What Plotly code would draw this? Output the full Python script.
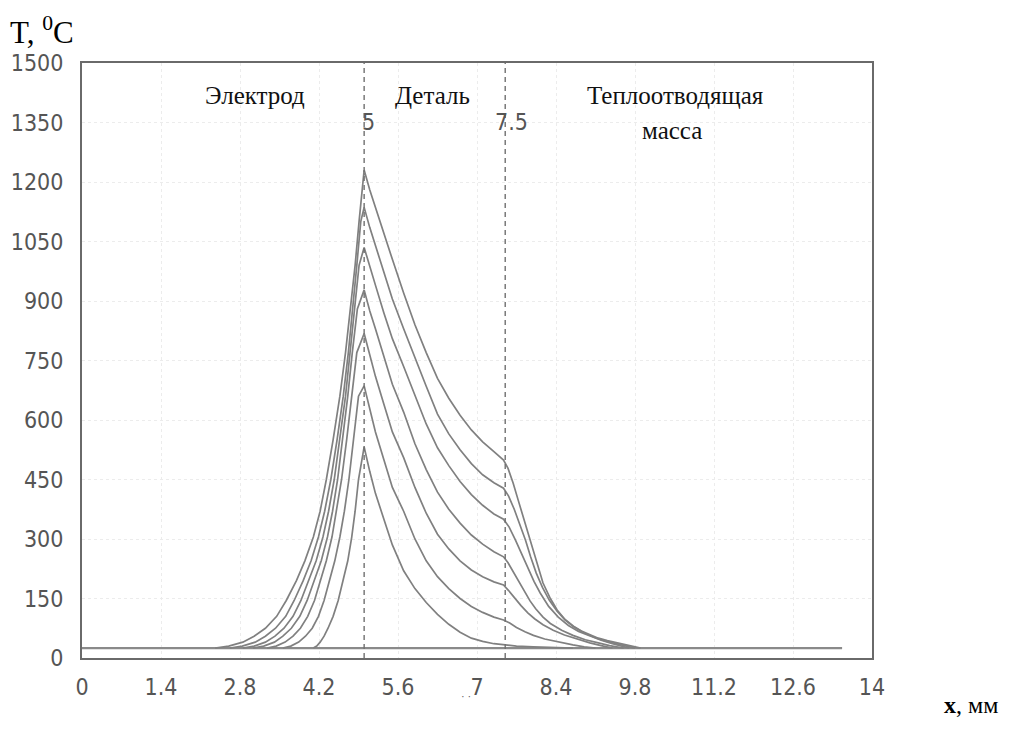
import plotly.graph_objects as go

# ---------------- data ----------------
x_ticks = [0, 1.4, 2.8, 4.2, 5.6, 7.0, 8.4, 9.8, 11.2, 12.6, 14]
x_tick_labels = ["0", "1.4", "2.8", "4.2", "5.6", "7", "8.4", "9.8", "11.2", "12.6", "14"]
y_ticks = [0, 150, 300, 450, 600, 750, 900, 1050, 1200, 1350, 1500]

base_x = [0, 13.47]
base_t = [25, 25]

c1_x = [2.36, 2.6, 2.85, 3.05, 3.25, 3.45, 3.62, 3.8, 3.95, 4.1, 4.22, 4.33, 4.45, 4.57,
        4.67, 4.76, 4.84, 4.91, 4.96, 5.0,
        5.1, 5.2, 5.35, 5.5, 5.7, 5.9, 6.1, 6.3, 6.5, 6.7, 6.9, 7.1, 7.3, 7.47,
        7.55, 7.64, 7.73, 7.82, 7.91, 8.0, 8.08, 8.17, 8.3, 8.42, 8.56, 8.71, 8.85,
        9.0, 9.15, 9.31, 9.5, 9.72, 9.9]
c1_t = [25, 30, 40, 55, 75, 105, 145, 195, 245, 305, 370, 450, 550, 660,
        770, 880, 990, 1100, 1180, 1230,
        1180, 1135, 1070, 1005, 920, 840, 770, 705, 655, 612, 575, 545, 520, 499,
        478, 441, 398, 355, 310, 265, 226, 189, 150, 121, 97, 80, 68,
        58, 50, 44, 38, 32, 25]

c2_x = [2.62, 2.84, 3.07, 3.25, 3.43, 3.61, 3.76, 3.92, 4.06, 4.19, 4.3, 4.41, 4.52, 4.63,
        4.72, 4.8, 4.87, 4.94, 5.0,
        5.1, 5.2, 5.35, 5.5, 5.7, 5.9, 6.1, 6.3, 6.5, 6.7, 6.9, 7.1, 7.3, 7.47,
        7.56, 7.66, 7.76, 7.86, 7.95, 8.05, 8.16, 8.28, 8.42, 8.56, 8.72, 8.9,
        9.1, 9.3, 9.5, 9.65, 9.8]
c2_t = [25, 30, 40, 55, 75, 105, 145, 195, 245, 305, 370, 450, 550, 660,
        770, 880, 990, 1100, 1136,
        1085, 1040, 970, 905, 830, 755, 685, 615, 565, 525, 490, 462, 442, 428,
        408, 375, 336, 297, 255, 214, 178, 146, 118, 96, 78, 63,
        51, 42, 35, 30, 25]

c3_x = [2.85, 3.05, 3.25, 3.42, 3.58, 3.74, 3.88, 4.02, 4.15, 4.27, 4.37, 4.47, 4.57, 4.67,
        4.75, 4.83, 4.91, 5.0,
        5.1, 5.2, 5.35, 5.5, 5.7, 5.9, 6.1, 6.3, 6.5, 6.7, 6.9, 7.1, 7.3, 7.47,
        7.57, 7.68, 7.79, 7.9, 8.01, 8.12, 8.27, 8.44, 8.62, 8.8, 9.0,
        9.2, 9.4, 9.55, 9.7]
c3_t = [25, 30, 40, 55, 75, 105, 145, 195, 245, 305, 370, 450, 550, 660,
        770, 880, 990, 1035,
        985, 940, 870, 805, 735, 660, 590, 530, 485, 445, 412, 385, 363, 350,
        330, 298, 262, 226, 193, 164, 130, 103, 82, 67, 55,
        45, 36, 30, 25]

c4_x = [3.03, 3.22, 3.41, 3.56, 3.71, 3.86, 3.99, 4.12, 4.24, 4.35, 4.44, 4.53, 4.62, 4.71,
        4.79, 4.88, 5.0,
        5.1, 5.2, 5.35, 5.5, 5.7, 5.9, 6.1, 6.3, 6.5, 6.7, 6.9, 7.1, 7.3, 7.47,
        7.55, 7.64, 7.74, 7.84, 7.94, 8.04, 8.17, 8.3, 8.5, 8.7, 8.92,
        9.15, 9.35, 9.6]
c4_t = [25, 30, 40, 55, 75, 105, 145, 195, 245, 305, 370, 450, 550, 660,
        770, 880, 928,
        875, 830, 760, 690, 620, 540, 475, 418, 375, 340, 310, 287, 268, 255,
        240, 218, 192, 167, 144, 124, 103, 87, 70, 57, 46,
        38, 31, 25]

c5_x = [3.28, 3.44, 3.6, 3.74, 3.87, 4.0, 4.12, 4.23, 4.33, 4.43, 4.51, 4.6, 4.69, 4.78,
        4.87, 5.0,
        5.1, 5.2, 5.35, 5.5, 5.7, 5.9, 6.1, 6.3, 6.5, 6.7, 6.9, 7.1, 7.3, 7.47,
        7.56, 7.66, 7.78, 7.9, 8.02, 8.17, 8.35, 8.55, 8.8, 9.0, 9.2, 9.4]
c5_t = [25, 30, 40, 55, 75, 105, 145, 195, 245, 305, 370, 450, 550, 660,
        770, 818,
        760, 710, 640, 570, 505, 430, 365, 312, 275, 245, 222, 205, 192, 184,
        170, 152, 132, 114, 99, 84, 70, 58, 46, 38, 31, 25]

c6_x = [3.56, 3.7, 3.84, 3.96, 4.08, 4.19, 4.29, 4.39, 4.48, 4.57, 4.65, 4.73, 4.81, 4.9,
        5.0,
        5.1, 5.2, 5.35, 5.5, 5.7, 5.9, 6.1, 6.3, 6.5, 6.7, 6.9, 7.1, 7.3, 7.47,
        7.58, 7.7, 7.85, 8.0, 8.2, 8.45, 8.7, 8.9, 9.1]
c6_t = [25, 30, 40, 55, 75, 105, 145, 195, 245, 305, 370, 450, 550, 660,
        686,
        625, 570, 500, 430, 370, 300, 245, 205, 175, 150, 130, 115, 103, 96,
        88, 77, 66, 57, 48, 40, 33, 28, 25]

c7_x = [4.1, 4.16, 4.22, 4.29, 4.36, 4.45, 4.54, 4.63, 4.71, 4.78, 4.84, 4.9, 5.0,
        5.1, 5.2, 5.35, 5.5, 5.7, 5.9, 6.1, 6.3, 6.5, 6.7, 6.9, 7.1, 7.3, 7.47,
        7.7, 8.0, 8.4, 8.7]
c7_t = [25, 30, 40, 55, 75, 105, 145, 195, 245, 305, 370, 450, 532,
        470, 415, 350, 285, 220, 175, 140, 110, 85, 65, 50, 42, 36, 33,
        30, 28, 26, 25]

curves = [(c1_x, c1_t), (c2_x, c2_t), (c3_x, c3_t), (c4_x, c4_t),
          (c5_x, c5_t), (c6_x, c6_t), (c7_x, c7_t)]

boundaries = [5.0, 7.5]
boundary_labels = ["5", "7.5"]
zone_labels = ["Электрод", "Деталь", "Теплоотводящая", "масса"]

# ---------------- figure ----------------
fig = go.Figure()

fig.add_trace(go.Scatter(x=base_x, y=base_t, mode="lines",
                         line=dict(color="#8a8a8a", width=2.2),
                         hoverinfo="skip", showlegend=False))
for cx, ct in curves:
    fig.add_trace(go.Scatter(x=cx, y=ct, mode="lines",
                             line=dict(color="#808080", width=1.7),
                             showlegend=False))

for b in boundaries:
    fig.add_shape(type="line", x0=b, x1=b, y0=0, y1=1500, xref="x", yref="y",
                  line=dict(color="#707070", width=1.4, dash="5px,4px"))

tick_font = dict(family="DejaVu Sans Condensed", size=23, color="#555555")
serif = "Liberation Serif"

ann = [
    dict(x=3.07, y=1419, text=zone_labels[0]),
    dict(x=6.22, y=1419, text=zone_labels[1]),
    dict(x=10.51, y=1419, text=zone_labels[2]),
    dict(x=10.46, y=1331, text=zone_labels[3]),
]
for a in ann:
    fig.add_annotation(x=a["x"], y=a["y"], text=a["text"], xref="x", yref="y",
                       showarrow=False, font=dict(family=serif, size=25, color="#111111"))

fig.add_annotation(x=5.07, y=1351, text=boundary_labels[0], xref="x", yref="y",
                   showarrow=False, font=tick_font)
fig.add_annotation(x=7.62, y=1351, text=boundary_labels[1], xref="x", yref="y",
                   showarrow=False, font=tick_font)

fig.add_annotation(x=-0.0937, y=1.054, xref="paper", yref="paper", xanchor="left",
                   yanchor="middle", showarrow=False,
                   text="T, <sup>0</sup>C", font=dict(family=serif, size=31, color="#000000"))
fig.add_annotation(x=1.089, y=-0.079, xref="paper", yref="paper", xanchor="left",
                   yanchor="middle", showarrow=False,
                   text="<b>x</b>, мм", font=dict(family=serif, size=24, color="#000000"))
fig.add_annotation(x=0.486, y=-0.078, xref="paper", yref="paper",
                   showarrow=False, text="· ·",
                   font=dict(family=serif, size=11, color="#555555"))

fig.update_xaxes(range=[0, 14], tickvals=x_ticks, ticktext=x_tick_labels,
                 showline=True, mirror=True, linecolor="#6a6a6a", linewidth=2,
                 showgrid=True, gridcolor="#ececec", griddash="dot", gridwidth=1,
                 zeroline=False, ticks="", tickfont=tick_font, ticklabelstandoff=7)
fig.update_yaxes(range=[0, 1500], tickvals=y_ticks,
                 showline=True, mirror=True, linecolor="#6a6a6a", linewidth=2,
                 showgrid=True, gridcolor="#ececec", griddash="dot", gridwidth=1,
                 zeroline=False, ticks="", tickfont=tick_font, ticklabelstandoff=12)

# the page body adds an 8px offset, compensated in the margins
fig.update_layout(width=1031, height=731,
                  margin=dict(l=74, r=167, t=55, b=81, autoexpand=False),
                  plot_bgcolor="white", paper_bgcolor="white",
                  showlegend=False)

fig.write_html("out.html")
